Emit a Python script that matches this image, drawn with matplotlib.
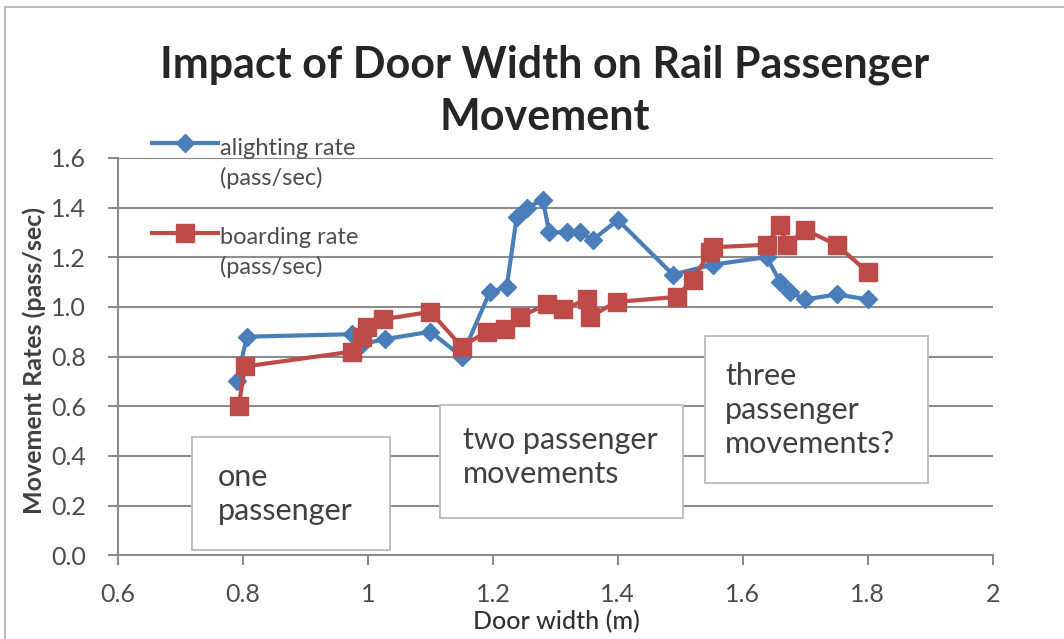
import matplotlib
matplotlib.use("Agg")
import matplotlib.pyplot as plt
from matplotlib.patches import Rectangle
from matplotlib.lines import Line2D

# door width (m) vs movement rate (pass/sec)
alight_x = [0.79, 0.806, 0.975, 0.99, 1.027, 1.10, 1.15, 1.195, 1.222, 1.238, 1.254,
            1.28, 1.29, 1.318, 1.339, 1.36, 1.40, 1.488, 1.552, 1.638, 1.66, 1.675,
            1.70, 1.75, 1.80]
alight_y = [0.70, 0.88, 0.89, 0.85, 0.87, 0.90, 0.80, 1.06, 1.08, 1.36, 1.40,
            1.43, 1.30, 1.30, 1.30, 1.27, 1.35, 1.13, 1.17, 1.20, 1.10, 1.06,
            1.03, 1.05, 1.03]

board_x = [0.793, 0.803, 0.975, 0.99, 0.998, 1.024, 1.10, 1.15, 1.19, 1.22, 1.243,
           1.286, 1.312, 1.35, 1.355, 1.398, 1.494, 1.52, 1.547, 1.552, 1.638, 1.66,
           1.67, 1.70, 1.75, 1.80]
board_y = [0.60, 0.76, 0.82, 0.88, 0.92, 0.95, 0.98, 0.84, 0.90, 0.91, 0.96,
           1.01, 0.99, 1.03, 0.96, 1.02, 1.04, 1.11, 1.22, 1.24, 1.25, 1.33,
           1.25, 1.31, 1.25, 1.14]

xticks = [0.6, 0.8, 1.0, 1.2, 1.4, 1.6, 1.8, 2.0]
xtick_labels = ["0.6", "0.8", "1", "1.2", "1.4", "1.6", "1.8", "2"]
yticks = [0.0, 0.2, 0.4, 0.6, 0.8, 1.0, 1.2, 1.4, 1.6]

series_labels = ["alighting rate\n(pass/sec)", "boarding rate\n(pass/sec)"]
notes = ["one\npassenger", "two passenger\nmovements", "three\npassenger\nmovements?"]

plt.rcParams['font.family'] = ['Lato', 'DejaVu Sans']
txt = '#404040'
lbl = '#4d4d4d'
grey = '#8c8c8c'
blue = '#4a7ebb'
red = '#be4b48'

fig = plt.figure(figsize=(10.64, 6.39), dpi=100)
# chart frame: only top and left edges show in the picture
fig.lines.append(Line2D([0.005, 1.0], [0.989, 0.989], transform=fig.transFigure,
                        color='#bbbbbb', lw=1.5))
fig.lines.append(Line2D([0.005, 0.005], [0.0, 0.989], transform=fig.transFigure,
                        color='#bbbbbb', lw=1.5))

ax = fig.add_axes([0.111, 0.131, 0.822, 0.622])
ax.set_xlim(0.6, 2.0)
ax.set_ylim(0, 1.6)
ax.set_xticks(xticks)
ax.set_xticklabels(xtick_labels)
ax.set_yticks(yticks)
ax.set_yticklabels([f"{v:.1f}" for v in yticks])
ax.grid(axis='y', color=grey, lw=1.5)
ax.set_axisbelow(True)
for s in ['top', 'right']:
    ax.spines[s].set_visible(False)
for s in ['left', 'bottom']:
    ax.spines[s].set_color(grey)
    ax.spines[s].set_linewidth(1.5)
ax.tick_params(axis='y', direction='out', length=7, width=1.5, color=grey,
               labelsize=18, labelcolor=lbl, pad=16)
ax.tick_params(axis='x', direction='out', length=7, width=1.5, color=grey,
               labelsize=18, labelcolor=lbl, pad=13)

ax.plot(alight_x, alight_y, color=blue, lw=3, marker='D', ms=9, zorder=3)
ax.plot(board_x, board_y, color=red, lw=3, marker='s', ms=13, zorder=4)

# legend drawn by hand, like the Excel one (handle on the first text line)
leg = [(1.038, 0.985, blue, 'D', 9), (0.811, 0.762, red, 's', 13)]
for lab, (hy, ty, c, m, ms) in zip(series_labels, leg):
    ax.plot([0.039, 0.114], [hy, hy], color=c, lw=3, transform=ax.transAxes, clip_on=False)
    ax.plot([0.077], [hy], color=c, marker=m, ms=ms, transform=ax.transAxes, clip_on=False)
    ax.text(0.117, ty, lab, transform=ax.transAxes, fontsize=17, color=lbl,
            va='center', ha='left', linespacing=1.45)

# annotation boxes
boxes = [(0.085, 0.013, 0.226, 0.284, 0.114, 0.155),
         (0.368, 0.093, 0.278, 0.285, 0.394, 0.248),
         (0.671, 0.181, 0.255, 0.371, 0.694, 0.365)]
for note, (bx, by, bw, bh, tx, ty) in zip(notes, boxes):
    ax.add_patch(Rectangle((bx, by), bw, bh, transform=ax.transAxes, fc='white',
                           ec='#bbbbbb', lw=1.3, zorder=5))
    ax.text(tx, ty, note, transform=ax.transAxes, fontsize=22, color=txt,
            va='center', ha='left', linespacing=1.25, zorder=6)

fig.text(0.523, 1 - 622 / 639, 'Door width (m)', ha='center', va='center',
         fontsize=18, color='#333333', fontweight='medium')
ax.set_ylabel('Movement Rates (pass/sec)', fontsize=18, color=txt, fontweight='bold')
ax.yaxis.set_label_coords(-0.082, 0.49)

fig.text(0.512, 0.858, 'Impact of Door Width on Rail Passenger\nMovement', ha='center',
         va='center', fontsize=31, fontweight='bold', color='#262626', linespacing=1.38)

fig.savefig('out.png', dpi=100)
